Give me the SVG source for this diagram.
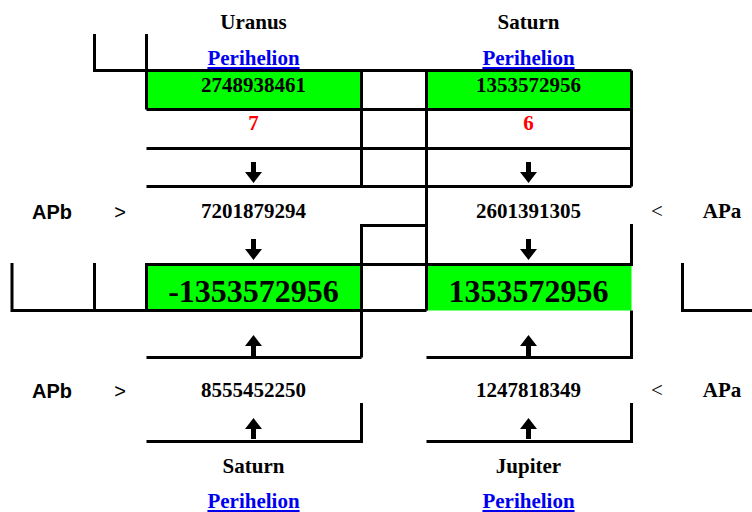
<svg xmlns="http://www.w3.org/2000/svg" width="752" height="512" viewBox="0 0 752 512">
<style>
.t{font-family:"Liberation Serif","Times New Roman",serif;font-weight:bold;font-size:21px;fill:#000;text-anchor:middle}
.big{font-size:32px}
.red{fill:#ff0000}
.lnk{fill:#0000ee;text-decoration:underline}
.sans{font-family:"Liberation Sans",Arial,sans-serif;font-weight:bold;font-size:20px;text-anchor:middle}
.op{font-family:"Liberation Sans",Arial,sans-serif;font-size:20px;text-anchor:middle}
.ops{font-family:"Liberation Serif","Times New Roman",serif;font-size:21px;text-anchor:middle}
.ln{stroke:#000;stroke-width:3;fill:none}
.g{fill:#00ff00}
</style>
<defs>
<path id="down" d="M-2.5,-10 H2.5 V0 H8.5 L0,11 L-8.5,0 H-2.5 Z" fill="#000"/>
<path id="up" d="M-2.5,10 H2.5 V0 H8.5 L0,-11 L-8.5,0 H-2.5 Z" fill="#000"/>
</defs>
<rect width="752" height="512" fill="#fff"/>
<g id="fills">
<rect class="g" x="146.5" y="70.5" width="215" height="39"/>
<rect class="g" x="426.5" y="70.5" width="205" height="39"/>
<rect class="g" x="146.5" y="264.5" width="215" height="46"/>
<rect class="g" x="426.5" y="264.5" width="205" height="46"/>
</g>
<g id="connectors" class="ln">
<path d="M94.5,34 V70.5 H631.5"/>
<path d="M146.5,34 V109.5"/>
<path d="M146.5,109.5 H631.5 M146.5,148.5 H631.5 M146.5,186.5 H631.5"/>
<path d="M361.5,70.5 V186.5 M631.5,70.5 V186.5 M426.5,70.5 V310.5"/>
<path d="M361.5,357.5 V225.5 H426.5"/>
<path d="M631.5,224 V264.5 H146.5 V310.5 H12 V263"/>
<path d="M94.5,263 V310.5 M146.5,310.5 H426.5"/>
<path d="M146.5,357.5 H361.5 M426.5,357.5 H631.5 V310.5"/>
<path d="M361.5,403 V441.5 H146.5 M631.5,403 V441.5 H426.5"/>
<path d="M682.5,263 V310.5 H752"/>
</g>
<g id="uranus-top">
<text class="t" x="253.5" y="29">Uranus</text>
<text class="t lnk" x="253.5" y="65">Perihelion</text>
<text class="t" x="253.5" y="92">2748938461</text>
<text class="t red" x="253.5" y="130">7</text>
<use href="#down" x="253.5" y="172"/>
</g>
<g id="saturn-top">
<text class="t" x="528.5" y="29">Saturn</text>
<text class="t lnk" x="528.5" y="65">Perihelion</text>
<text class="t" x="528.5" y="92">1353572956</text>
<text class="t red" x="528.5" y="130">6</text>
<use href="#down" x="528.5" y="172"/>
</g>
<g id="row1">
<text class="sans" x="52" y="219">APb</text>
<text class="op" x="120" y="219">&gt;</text>
<text class="t" x="253.5" y="218">7201879294</text>
<text class="t" x="528.5" y="218">2601391305</text>
<text class="ops" x="657" y="218">&lt;</text>
<text class="t" x="722" y="218">APa</text>
<use href="#down" x="253.5" y="249"/>
<use href="#down" x="528.5" y="249"/>
</g>
<g id="result-left">
<text class="t big" x="253.5" y="302">-1353572956</text>
</g>
<g id="result-right">
<text class="t big" x="528.5" y="302">1353572956</text>
</g>
<g id="row2">
<use href="#up" x="253.5" y="346"/>
<use href="#up" x="528.5" y="346"/>
<text class="sans" x="52" y="398">APb</text>
<text class="op" x="120" y="398">&gt;</text>
<text class="t" x="253.5" y="397">8555452250</text>
<text class="t" x="528.5" y="397">1247818349</text>
<text class="ops" x="657" y="397">&lt;</text>
<text class="t" x="722" y="397">APa</text>
<use href="#up" x="253.5" y="429"/>
<use href="#up" x="528.5" y="429"/>
</g>
<g id="saturn-bottom">
<text class="t" x="253.5" y="473">Saturn</text>
<text class="t lnk" x="253.5" y="508">Perihelion</text>
</g>
<g id="jupiter-bottom">
<text class="t" x="528.5" y="473">Jupiter</text>
<text class="t lnk" x="528.5" y="508">Perihelion</text>
</g>
</svg>
